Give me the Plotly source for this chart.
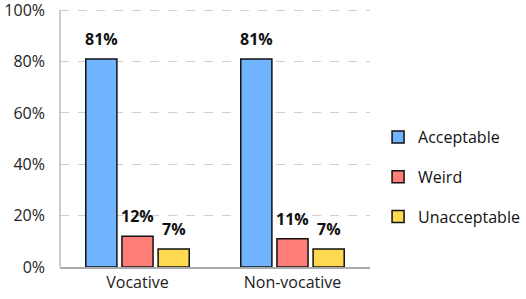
import plotly.graph_objects as go

categories = ["Vocative", "Non-vocative"]
series_names = ["Acceptable", "Weird", "Unacceptable"]
acceptable = [81, 81]
weird = [12, 11]
unacceptable = [7, 7]
tick_vals = [0, 20, 40, 60, 80, 100]
tick_text = ["0%", "20%", "40%", "60%", "80%", "100%"]

colors = ["#70B3FF", "#FF7F78", "#FFD950"]
values = [acceptable, weird, unacceptable]

W, H = 526, 299
ML, MR, MT, MB = 60, 156, 0, 32
bargap, bargroupgap = 0.30, 0.14

fig = go.Figure()
for i, (name, vals) in enumerate(zip(series_names, values)):
    fig.add_trace(go.Bar(
        x=categories, y=vals, name=name,
        marker=dict(color=colors[i], line=dict(color="#111111", width=1.5)),
        cliponaxis=False, legendgroup=name,
    ))

# value labels above bars (pixel shift per series within the group)
cat_px = (W - ML - MR) / len(categories)
slot_px = cat_px * (1 - bargap) / len(series_names)
for i, vals in enumerate(values):
    for c, v in zip(categories, vals):
        fig.add_annotation(
            x=c, y=v, xref="x", yref="y", text=f"<b>{v}%</b>",
            showarrow=False, yanchor="bottom", yshift=7,
            xshift=(i - 1) * slot_px,
            font=dict(family="Open Sans", size=16, color="#111111"),
        )

# left axis line only up to 100%
fig.add_shape(type="line", xref="paper", yref="y", x0=0, x1=0, y0=0, y1=100,
              line=dict(color="#BBBBBB", width=1.5), layer="above")

fig.update_layout(
    width=W, height=H,
    margin=dict(l=ML, r=MR, t=MT, b=MB, autoexpand=False),
    paper_bgcolor="white", plot_bgcolor="white",
    barmode="group", bargap=bargap, bargroupgap=bargroupgap,
    font=dict(family="Open Sans", size=16, color="#222222"),
    showlegend=True,
    legend=dict(x=1.026, y=0.337, yanchor="middle", xanchor="left",
                traceorder="grouped", tracegroupgap=16,
                font=dict(size=16, color="#111111")),
    xaxis=dict(showline=True, linecolor="#AAAAAA", linewidth=1.5,
               ticks="", tickfont=dict(size=16), automargin=False),
    yaxis=dict(range=[0, 104], tickvals=tick_vals, ticktext=tick_text,
               showline=False, ticklabeloverflow="allow",
               showgrid=True, gridcolor="#D0D0D0", griddash="dash", gridwidth=1,
               zeroline=False, ticks="", ticklabelstandoff=14,
               tickfont=dict(size=16), automargin=False),
)

fig.write_html("out.html", config={"displayModeBar": False},
               post_script="document.body.style.margin='0px';")
